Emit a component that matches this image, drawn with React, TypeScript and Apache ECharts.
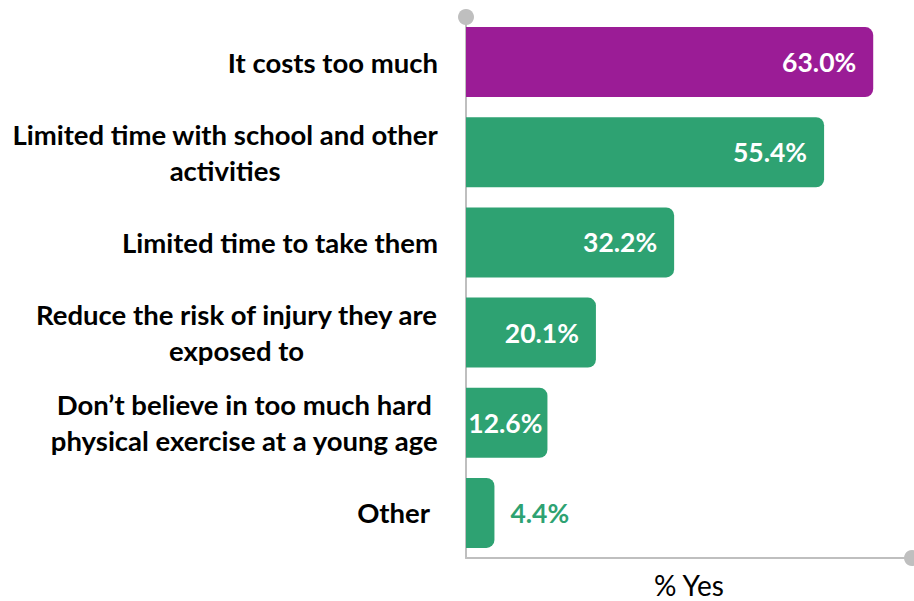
import React, { useEffect, useRef } from "react";
import * as echarts from "echarts";

const categories = [
  "It costs too much",
  "Limited time with school and other\nactivities",
  "Limited time to take them",
  "Reduce the risk of injury they are\nexposed to",
  "Don’t believe in too much hard\nphysical exercise at a young age",
  "Other",
];
const values = [63.0, 55.4, 32.2, 20.1, 12.6, 4.4];
const axisName = "% Yes";

const PURPLE = "#9B1C96";
const GREEN = "#2EA272";
const FONT = "Lato";

export default function App() {
  const ref = useRef<HTMLDivElement>(null);
  useEffect(() => {
    if (!ref.current) return;
    const chart = echarts.init(ref.current, null, { renderer: "svg" });
    const data = values.map((v, i) => {
      const isFirst = i === 0;
      const isLast = i === values.length - 1;
      return {
        value: v,
        itemStyle: { color: isFirst ? PURPLE : GREEN },
        label: isLast
          ? { position: "right", distance: 16, color: GREEN }
          : { position: "insideRight", distance: v < 15 ? 5 : 17, color: "#ffffff" },
      };
    });
    const lineStyleBase = { fontFamily: FONT, fontWeight: "bold", fontSize: 27.5, lineHeight: 36, color: "#000", align: "center" };
    chart.setOption({
      animation: false,
      grid: { left: 466, right: 2, top: 17, bottom: 43, containLabel: false, outerBoundsMode: "none" },
      xAxis: {
        type: "value",
        min: 0,
        max: 69,
        name: axisName,
        nameLocation: "middle",
        nameGap: 13,
        nameTextStyle: { fontFamily: FONT, fontSize: 28, color: "#000", verticalAlign: "top" },
        axisLine: {
          show: true,
          symbol: ["none", "circle"],
          symbolSize: [16, 16],
          lineStyle: { color: "#BFBFBF", width: 2 },
        },
        axisTick: { show: false },
        axisLabel: { show: false },
        splitLine: { show: false },
      },
      yAxis: {
        type: "category",
        inverse: true,
        data: categories,
        axisLine: {
          show: true,
          symbol: ["none", "circle"],
          symbolSize: [16, 16],
          lineStyle: { color: "#BFBFBF", width: 2 },
        },
        axisTick: { show: false },
        axisLabel: {
          margin: 28,
          formatter: (val: string) =>
            val
              .split("\n")
              .map((line) => (line === "Other" ? `{o|${line}}` : `{c|${line}}`))
              .join("\n"),
          rich: {
            c: { ...lineStyleBase },
            o: { ...lineStyleBase, padding: [0, 8, 0, 0] },
          },
        },
      },
      series: [
        {
          type: "bar",
          data,
          barWidth: 70,
          itemStyle: { borderRadius: [0, 8, 8, 0] },
          label: {
            show: true,
            formatter: (p: any) => `${p.value.toFixed(1)}%`,
            fontFamily: FONT,
            fontWeight: "bold",
            fontSize: 26.5,
          },
        },
      ],
    });
    return () => chart.dispose();
  }, []);
  return <div ref={ref} style={{ width: 914, height: 601, position: "absolute", left: 0, top: 0 }} />;
}
